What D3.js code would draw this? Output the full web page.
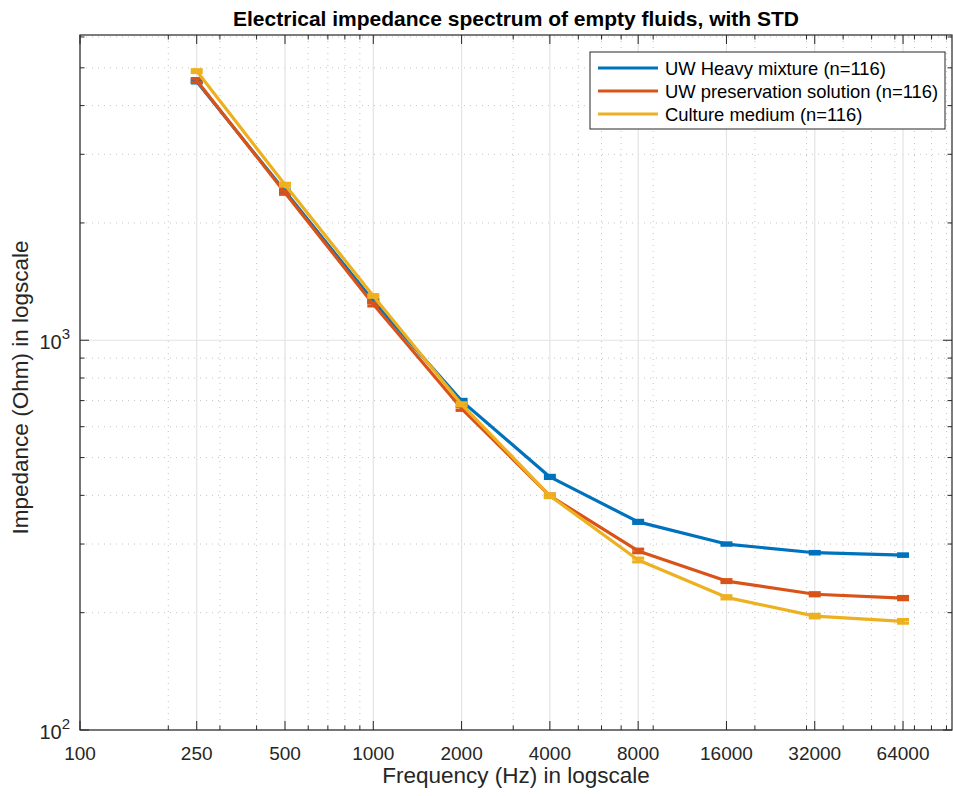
<!DOCTYPE html>
<html>
<head>
<meta charset="utf-8">
<script src="https://cdn.jsdelivr.net/npm/d3@7"></script>
<style>
  html, body { margin: 0; padding: 0; background: #fff; }
  svg { display: block; font-family: "Liberation Sans", Arial, sans-serif; }
</style>
</head>
<body>
<div id="chart"></div>
<script>
// --- data ---
const freqs = [250, 500, 1000, 2000, 4000, 8000, 16000, 32000, 64000];
const xTickValues = [100, 250, 500, 1000, 2000, 4000, 8000, 16000, 32000, 64000];

const uwHeavy = [4614, 2410, 1261, 699, 446, 342, 300, 285, 281];
const uwHeavyStd = [40, 20, 10, 6, 4, 3, 2, 2, 2];
const uwPreservation = [4642, 2391, 1237, 668, 399, 288, 241, 223, 218];
const uwPreservationStd = [50, 22, 12, 7, 4, 3, 2, 2, 2];
const cultureMedium = [4904, 2507, 1299, 685, 399, 273, 219, 196, 190];
const cultureMediumStd = [40, 20, 10, 6, 4, 3, 2, 2, 2];

const seriesNames = ["UW Heavy mixture (n=116)", "UW preservation solution (n=116)", "Culture medium (n=116)"];
const seriesColors = ["#0072BD", "#D95319", "#EDB120"];

const W = 953, H = 796;
const margin = { top: 35, right: 1, bottom: 66, left: 80 };
const width = W - margin.left - margin.right;
const height = H - margin.top - margin.bottom;
const axisColor = "#262626";

const svg = d3.select("#chart").append("svg")
  .attr("width", W).attr("height", H);
const g = svg.append("g").attr("transform", `translate(${margin.left},${margin.top})`);

// scales
const x = d3.scaleLog().domain([100, 94000]).range([0, width]);
const y = d3.scaleLog().domain([100, 6070]).range([height, 0]);

// minor tick values (standard log minor positions)
const xMinor = [];
for (let dec = 100; dec <= 10000; dec *= 10) {
  for (let k = 2; k <= 9; k++) {
    const v = dec * k;
    if (v < 94000 && !xTickValues.includes(v)) xMinor.push(v);
  }
}
const yMinor = [];
for (let dec = 100; dec <= 1000; dec *= 10) {
  for (let k = 2; k <= 9; k++) {
    const v = dec * k;
    if (v < 6070) yMinor.push(v);
  }
}
const yMajor = [100, 1000];

// --- grid ---
const grid = g.append("g");
grid.selectAll(".xminor").data(xMinor).join("line")
  .attr("x1", d => x(d)).attr("x2", d => x(d))
  .attr("y1", 0).attr("y2", height)
  .attr("stroke", "#c4c4c4").attr("stroke-width", 1).attr("stroke-dasharray", "1,5");
grid.selectAll(".yminor").data(yMinor).join("line")
  .attr("y1", d => y(d)).attr("y2", d => y(d))
  .attr("x1", 0).attr("x2", width)
  .attr("stroke", "#c4c4c4").attr("stroke-width", 1).attr("stroke-dasharray", "1,5");
grid.selectAll(".xmajor").data(xTickValues).join("line")
  .attr("x1", d => x(d)).attr("x2", d => x(d))
  .attr("y1", 0).attr("y2", height)
  .attr("stroke", "#e3e3e3").attr("stroke-width", 1.2);
grid.selectAll(".ymajor").data(yMajor).join("line")
  .attr("y1", d => y(d)).attr("y2", d => y(d))
  .attr("x1", 0).attr("x2", width)
  .attr("stroke", "#e3e3e3").attr("stroke-width", 1.2);

// --- series ---
const series = [
  { values: uwHeavy, std: uwHeavyStd },
  { values: uwPreservation, std: uwPreservationStd },
  { values: cultureMedium, std: cultureMediumStd }
];

const line = d3.line()
  .x(d => x(d.f))
  .y(d => y(d.v));

series.forEach((s, i) => {
  const pts = freqs.map((f, j) => ({ f, v: s.values[j], sd: s.std[j] }));
  const sg = g.append("g");
  sg.append("path")
    .datum(pts)
    .attr("d", line)
    .attr("fill", "none")
    .attr("stroke", seriesColors[i])
    .attr("stroke-width", 3.2)
    .attr("stroke-linejoin", "round");
  // error bars: vertical span + caps
  const eb = sg.selectAll(".eb").data(pts).join("g");
  eb.append("line")
    .attr("x1", d => x(d.f)).attr("x2", d => x(d.f))
    .attr("y1", d => y(d.v - d.sd)).attr("y2", d => y(d.v + d.sd))
    .attr("stroke", seriesColors[i]).attr("stroke-width", 3.2);
  [-1, 1].forEach(sign => {
    eb.append("line")
      .attr("x1", d => x(d.f) - 6).attr("x2", d => x(d.f) + 6)
      .attr("y1", d => y(d.v + sign * d.sd)).attr("y2", d => y(d.v + sign * d.sd))
      .attr("stroke", seriesColors[i]).attr("stroke-width", 3.2);
  });
});

// --- axes box and ticks ---
const ax = g.append("g").attr("stroke", axisColor).attr("fill", "none");
ax.append("rect").attr("x", 0).attr("y", 0).attr("width", width).attr("height", height)
  .attr("stroke-width", 1.2);

const majorLen = 9, minorLen = 4.5;
xTickValues.forEach(v => {
  ax.append("line").attr("x1", x(v)).attr("x2", x(v)).attr("y1", height).attr("y2", height - majorLen);
  ax.append("line").attr("x1", x(v)).attr("x2", x(v)).attr("y1", 0).attr("y2", majorLen);
});
xMinor.forEach(v => {
  ax.append("line").attr("x1", x(v)).attr("x2", x(v)).attr("y1", height).attr("y2", height - minorLen);
  ax.append("line").attr("x1", x(v)).attr("x2", x(v)).attr("y1", 0).attr("y2", minorLen);
});
yMajor.forEach(v => {
  ax.append("line").attr("y1", y(v)).attr("y2", y(v)).attr("x1", 0).attr("x2", majorLen);
  ax.append("line").attr("y1", y(v)).attr("y2", y(v)).attr("x1", width).attr("x2", width - majorLen);
});
yMinor.forEach(v => {
  ax.append("line").attr("y1", y(v)).attr("y2", y(v)).attr("x1", 0).attr("x2", minorLen);
  ax.append("line").attr("y1", y(v)).attr("y2", y(v)).attr("x1", width).attr("x2", width - minorLen);
});
ax.selectAll("line").attr("stroke-width", 1);

// tick labels
g.append("g").selectAll("text").data(xTickValues).join("text")
  .attr("x", d => x(d)).attr("y", height + 30)
  .attr("text-anchor", "middle")
  .attr("fill", axisColor)
  .style("font-size", "19px")
  .text(d => d);

const yl = g.append("g").selectAll("text").data(yMajor).join("text")
  .attr("x", -10).attr("y", d => y(d) + 9)
  .attr("text-anchor", "end")
  .attr("fill", axisColor)
  .style("font-size", "20px");
yl.append("tspan").text("10");
yl.append("tspan").attr("dy", -10).style("font-size", "15px").text(d => Math.round(Math.log10(d)));

// axis labels and title
svg.append("text")
  .attr("x", margin.left + width / 2).attr("y", H - 13)
  .attr("text-anchor", "middle").attr("fill", axisColor)
  .style("font-size", "22.5px")
  .text("Frequency (Hz) in logscale");

svg.append("text")
  .attr("transform", `translate(28,${margin.top + height / 2 + 5}) rotate(-90)`)
  .attr("text-anchor", "middle").attr("fill", axisColor)
  .style("font-size", "22.5px")
  .text("Impedance (Ohm) in logscale");

svg.append("text")
  .attr("x", margin.left + width / 2).attr("y", 26)
  .attr("text-anchor", "middle").attr("fill", "#000")
  .style("font-size", "21px").style("font-weight", "bold")
  .text("Electrical impedance spectrum of empty fluids, with STD");

// legend
const lg = svg.append("g").attr("transform", "translate(590,52)");
lg.append("rect").attr("width", 355).attr("height", 77)
  .attr("fill", "#fff").attr("stroke", axisColor).attr("stroke-width", 1);
seriesNames.forEach((name, i) => {
  const cy = 16 + i * 23;
  lg.append("line").attr("x1", 8).attr("x2", 68).attr("y1", cy).attr("y2", cy)
    .attr("stroke", seriesColors[i]).attr("stroke-width", 3.2);
  lg.append("text").attr("x", 75).attr("y", cy + 6.5)
    .attr("fill", "#000").style("font-size", "18.4px")
    .text(name);
});
</script>
</body>
</html>
